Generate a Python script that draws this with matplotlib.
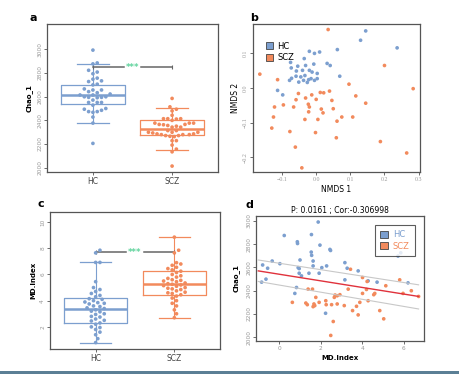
"""
Chao_1 / MD.Index comparison between HC and SCZ, NMDS ordination and
correlation panel. Four panels, a-d.
"""

import numpy as np
import matplotlib
matplotlib.use("Agg")
import matplotlib.pyplot as plt
from matplotlib.patches import Patch

HC_COLOR  = "#7c9fcf"
SCZ_COLOR = "#f28a5c"
STAR_COLOR = "#5fd39c"
groups = ["HC", "SCZ"]

# Panel d pairs (MD.Index, Chao_1); the Chao_1 values also feed panel a
hc_md_d = [1.875, 0.24, 0.87, 0.88, 1.55, 1.96, 2.44, 2.47, 1.54, 1.56,
           1.63, 1.0, -0.34, 0.03, -0.80, -0.56, 0.91, 0.96, 1.63, 2.05,
           2.28, 3.16, 3.27, 3.80, 0.96, 1.43, 1.92, 1.07, -0.64, -0.85,
           3.16, 4.71, 6.20, 4.28, 0.83, 0.75, 2.23, 5.72, 5.85]
hc_chao = [2991, 2875, 2821, 2806, 2883, 2792, 2755, 2746, 2732, 2704,
           2655, 2664, 2655, 2632, 2621, 2593, 2598, 2590, 2613, 2598,
           2613, 2641, 2593, 2570, 2550, 2550, 2550, 2527, 2499, 2473,
           2493, 2473, 2467, 2484, 2427, 2376, 2205, 2698, 2726]
scz_md_d = [3.43, 4.01, 4.23, 5.80, 5.13, 3.32, 4.01, 4.20, 4.60, 4.55,
            5.96, 6.36, 6.71, 1.39, 1.60, 1.76, 2.69, 2.79, 2.92, 2.65,
            2.24, 2.26, 2.52, 2.79, 3.13, 0.63, 1.28, 1.35, 1.67, 1.71,
            1.63, 1.92, 3.72, 3.88, 4.28, 3.53, 3.80, 4.84, 5.03, 2.60, 2.48]
scz_chao = [2584, 2513, 2479, 2493, 2442, 2413, 2376, 2410, 2376, 2365,
            2376, 2399, 2350, 2413, 2413, 2342, 2362, 2356, 2365, 2342,
            2313, 2279, 2279, 2285, 2271, 2299, 2293, 2279, 2285, 2271,
            2262, 2299, 2265, 2299, 2313, 2228, 2191, 2228, 2157, 2134, 2014]

# Panel c MD.Index values
hc_md = [7.85, 7.65, 6.92, 6.92, 5.45, 5.0, 4.85, 4.7, 4.55, 4.4, 4.3, 4.15,
         4.1, 4.0, 3.9, 3.85, 3.8, 3.75, 3.6, 3.55, 3.45, 3.4, 3.3, 3.2,
         3.15, 3.0, 2.95, 2.8, 2.75, 2.6, 2.5, 2.45, 2.3, 2.2, 2.0, 1.95,
         1.8, 1.6, 1.4, 1.1, 0.8]
scz_md = [8.85, 7.85, 7.65, 6.9, 6.8, 6.7, 6.55, 6.45, 6.35, 6.25, 6.15,
          6.0, 5.9, 5.8, 5.7, 5.6, 5.55, 5.5, 5.45, 5.35, 5.3, 5.25, 5.2,
          5.15, 5.1, 5.0, 4.95, 4.9, 4.85, 4.75, 4.65, 4.6, 4.55, 4.45,
          4.35, 4.2, 4.0, 3.8, 3.6, 3.3, 3.0, 2.7]

# box statistics: whislo, q1, med, q3, whishi
chao_box = {"HC": [2380, 2538, 2611, 2701, 2876],
            "SCZ": [2146, 2276, 2330, 2400, 2504]}
md_box = {"HC": [0.79, 2.27, 3.37, 4.23, 6.94],
          "SCZ": [2.68, 4.46, 5.28, 6.30, 8.85]}

# NMDS ordination
hc_nmds1 = [0.145, 0.130, 0.237, -0.020, -0.005, 0.010, 0.062, -0.035, -0.075,
            -0.007, 0.032, 0.041, -0.073, -0.054, -0.031, -0.040, -0.020,
            -0.012, -0.058, 0.003, 0.069, -0.059, -0.072, -0.078, -0.051,
            -0.037, -0.022, -0.026, -0.015, -0.005, 0.003, -0.113, -0.098,
            -0.045, -0.033]
hc_nmds2 = [0.165, 0.138, 0.116, 0.106, 0.100, 0.104, 0.111, 0.085, 0.074,
            0.069, 0.071, 0.065, 0.058, 0.063, 0.065, 0.051, 0.051, 0.046,
            0.049, 0.042, 0.034, 0.034, 0.028, 0.022, 0.017, 0.022, 0.024,
            0.016, 0.027, 0.022, 0.027, -0.007, -0.020, 0.032, 0.036]
scz_nmds1 = [0.035, -0.165, 0.200, 0.284, -0.113, 0.096, -0.052, 0.012, 0.039,
             0.022, 0.116, -0.013, -0.031, -0.059, 0.000, 0.046, -0.122,
             -0.096, -0.066, -0.023, -0.020, -0.022, 0.015, 0.020, 0.050,
             0.145, -0.125, -0.033, 0.005, 0.075, 0.061, 0.107, -0.130,
             -0.077, -0.002, 0.059, -0.061, 0.188, 0.265, -0.042]
scz_nmds2 = [0.169, 0.040, 0.065, -0.002, 0.024, 0.011, -0.016, -0.013, -0.009,
             -0.014, -0.023, -0.020, -0.029, -0.034, -0.033, -0.036, -0.055,
             -0.049, -0.055, -0.047, -0.055, -0.069, -0.061, -0.072, -0.060,
             -0.044, -0.084, -0.091, -0.091, -0.084, -0.096, -0.084, -0.116,
             -0.126, -0.129, -0.144, -0.171, -0.155, -0.188, -0.231]

# panel d fit and confidence limits at the ends of the x range
fit_x = [-1.01, 6.71]
fit_y = [2570, 2350]
ci_hi = [2664, 2450]
ci_lo = [2479, 2242]


def style_axes(ax, rotate_y=True):
    for s in ax.spines.values():
        s.set_color("#555555")
        s.set_linewidth(0.9)
    ax.tick_params(length=2, width=0.6, color="#555555", labelsize=4.2,
                   labelcolor="#999999", pad=1.5)
    if rotate_y:
        for t in ax.get_yticklabels():
            t.set_rotation(90)
            t.set_va("center")


def swarm_x(ax, x0, vals, diam=4.3):
    """Simple beeswarm: push points sideways (in pixels) until they do not overlap."""
    pts = ax.transData.transform(np.column_stack([np.full(len(vals), x0), vals]))
    xc, ys = pts[0, 0], pts[:, 1]
    placed = []
    xs = np.zeros(len(vals))
    for i in np.argsort(ys):
        y = ys[i]
        for k in range(60):
            cand = [0.0] if k == 0 else [k * diam * 0.5, -k * diam * 0.5]
            ok = None
            for c in cand:
                if all((c - px) ** 2 + (y - py) ** 2 >= diam ** 2 for px, py in placed):
                    ok = c
                    break
            if ok is not None:
                break
        placed.append((ok, y))
        xs[i] = ok
    inv = ax.transData.inverted()
    return inv.transform(np.column_stack([xc + xs, ys]))[:, 0]


def box_panel(ax, stats, data, ylim, yticks, ylabel, bracket_y, gap):
    ax.set_xlim(0.42, 2.58)
    ax.set_ylim(*ylim)
    bx = []
    for g in groups:
        lo, q1, med, q3, hi = stats[g]
        bx.append(dict(whislo=lo, q1=q1, med=med, q3=q3, whishi=hi, fliers=[]))
    colors = [HC_COLOR, SCZ_COLOR]
    for i, (b, c) in enumerate(zip(bx, colors)):
        ax.bxp([b], positions=[i + 1], widths=0.8, showfliers=False,
               boxprops=dict(color=c, linewidth=0.9),
               whiskerprops=dict(color=c, linewidth=0.8),
               capprops=dict(color=c, linewidth=0.9),
               medianprops=dict(color=c, linewidth=1.8),
               capwidths=0.4)
    # bracket with significance stars
    ax.plot([1, 1.5 - gap], [bracket_y, bracket_y], color="#666666", lw=1.1)
    ax.plot([1.5 + gap, 2], [bracket_y, bracket_y], color="#666666", lw=1.1)
    ax.plot([1, 2], [bracket_y, bracket_y], ls="none", marker="|",
            ms=3, color="#666666", mew=0.8)
    ax.text(1.5, bracket_y, "***", color=STAR_COLOR, fontsize=6,
            fontweight="bold", ha="center", va="center")
    for i, (vals, c) in enumerate(zip(data, colors)):
        xs = swarm_x(ax, i + 1, vals)
        ax.scatter(xs, vals, s=7, color=c, edgecolors="none", zorder=3)
    ax.set_xticks([1, 2])
    ax.set_xticklabels(groups)
    ax.set_yticks(yticks)
    ax.set_ylabel(ylabel, fontsize=5, fontweight="bold", labelpad=3)
    style_axes(ax)
    ax.tick_params(axis="x", labelsize=5.5, labelcolor="#444444")


fig = plt.figure(figsize=(4.6, 3.74), dpi=100)
W, H = 460, 374


def add_ax(l, t, r, b):
    return fig.add_axes([l / W, 1 - b / H, (r - l) / W, (b - t) / H])


ax_a = add_ax(47, 24, 218, 172)
ax_b = add_ax(253, 24, 420, 172)
ax_c = add_ax(50, 212, 220, 349)
ax_d = add_ax(256, 216, 424, 341)

# a
box_panel(ax_a, chao_box, [hc_chao, scz_chao], (1964, 3211),
          [2000, 2200, 2400, 2600, 2800, 3000], "Chao_1", 2848, 0.11)

# c
box_panel(ax_c, md_box, [hc_md, scz_md], (0.31, 10.77),
          [2, 4, 6, 8, 10], "MD.Index", 7.68, 0.11)

# b
ax_b.scatter(hc_nmds1, hc_nmds2, s=7, color=HC_COLOR, edgecolors="none")
ax_b.scatter(scz_nmds1, scz_nmds2, s=7, color=SCZ_COLOR, edgecolors="none")
ax_b.set_xlim(-0.185, 0.304)
ax_b.set_ylim(-0.243, 0.185)
ax_b.set_xticks([-0.1, 0.0, 0.1, 0.2, 0.3])
ax_b.set_yticks([-0.2, -0.1, 0.0, 0.1])
ax_b.set_xlabel("NMDS 1", fontsize=5.5, labelpad=2)
ax_b.set_ylabel("NMDS 2", fontsize=5.5, labelpad=2)
style_axes(ax_b)
for t in ax_b.get_xticklabels() + ax_b.get_yticklabels():
    t.set_family("Liberation Serif")
handles = [Patch(facecolor=HC_COLOR, edgecolor="#444444", lw=0.6),
           Patch(facecolor=SCZ_COLOR, edgecolor="#444444", lw=0.6)]
ax_b.legend(handles, groups, loc="upper left", bbox_to_anchor=(0.04, 0.92),
            frameon=False, fontsize=6, handlelength=0.9, handleheight=0.9,
            handletextpad=0.5, labelspacing=0.3, borderpad=0.2)

# d
ax_d.scatter(hc_md_d, hc_chao, s=7, color=HC_COLOR, edgecolors="none")
ax_d.scatter(scz_md_d, scz_chao, s=7, color=SCZ_COLOR, edgecolors="none")
ax_d.plot(fit_x, ci_hi, color="#c8c8c8", lw=0.8)
ax_d.plot(fit_x, ci_lo, color="#c8c8c8", lw=0.8)
ax_d.plot(fit_x, fit_y, color="#e0323c", lw=1.0)
ax_d.set_xlim(-1.12, 6.97)
ax_d.set_ylim(1966, 3043)
ax_d.set_xticks([0, 2, 4, 6])
ax_d.set_yticks([2000, 2200, 2400, 2600, 2800, 3000])
ax_d.set_xlabel("MD.Index", fontsize=5, fontweight="bold", labelpad=3)
ax_d.set_ylabel("Chao_1", fontsize=5, fontweight="bold", labelpad=5)
ax_d.set_title("P: 0.0161 ; Cor:-0.306998", fontsize=5.5, pad=2)
style_axes(ax_d)
leg = ax_d.legend(handles, groups, loc="upper right", bbox_to_anchor=(0.97, 0.96),
                  frameon=True, fancybox=False, fontsize=6, handlelength=0.9,
                  handleheight=0.9, handletextpad=0.6, labelspacing=0.3,
                  borderpad=0.6)
leg.get_frame().set_edgecolor("#333333")
leg.get_frame().set_linewidth(0.8)
for t, c in zip(leg.get_texts(), [HC_COLOR, SCZ_COLOR]):
    t.set_color(c)

# panel letters
for x, y, s in [(30, 18, "a"), (250, 18, "b"), (38, 204, "c"), (246, 205, "d")]:
    fig.text(x / W, 1 - y / H, s, fontsize=8, fontweight="bold", ha="left", va="center")

# footer band
fig.add_artist(plt.Rectangle((0, 0), 1, 3.5 / H, transform=fig.transFigure,
                             color="#5b7f95", lw=0))

fig.savefig("out.png", dpi=100, facecolor="white")
